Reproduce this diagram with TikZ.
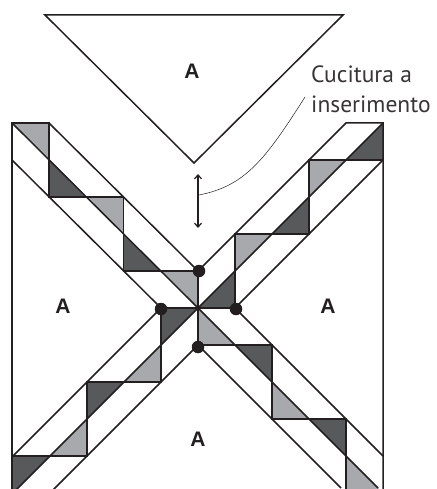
\documentclass[tikz,border=0pt]{standalone}
\usepackage{fontspec}
\setmainfont{PT Sans}
\newfontfamily\labelfont{Liberation Sans}
\usetikzlibrary{arrows.meta}
\definecolor{inkc}{HTML}{231F20}
\definecolor{darkp}{HTML}{58595B}
\definecolor{lightp}{HTML}{A7A9AC}
\tikzset{
  seam/.style={draw=inkc,line width=1.5pt,line cap=butt,line join=miter},
  pin/.style={circle,fill=inkc,inner sep=0pt,minimum size=12.5pt},
  piece/.style={font=\labelfont\bfseries\fontsize{21}{21}\selectfont,text=inkc,inner sep=0pt},
  note/.style={font=\fontsize{23.5}{23.5}\selectfont,text=inkc!90,inner sep=0pt,anchor=base west},
  leader/.style={draw=inkc,line width=0.5pt},
  gap/.style={draw=inkc,line width=1.2pt,{Straight Barb[length=4pt,width=7pt]}-{Straight Barb[length=4pt,width=7pt]}}
}
\begin{document}
\begin{tikzpicture}[x=1pt,y=-1pt]
\useasboundingbox (0,0) rectangle (436,489);
\clip (0,0) rectangle (436,489);
\coordinate (C) at (198,308);
\coordinate (N) at (198,271);
\coordinate (W) at (161,308);
\coordinate (E) at (235,308);
\coordinate (S) at (198,345);
% fills: upper left
\fill[lightp] (12,123)--(49,123)--(49,160)--cycle;
\fill[darkp] (49,160)--(49,197)--(86,197)--cycle;
\fill[lightp] (86,197)--(123.5,197)--(123.5,234)--cycle;
\fill[darkp] (123.5,234)--(123.5,271)--(161,271)--cycle;
\fill[lightp] (161,271)--(N)--(C)--cycle;
% fills: upper right
\fill[darkp] (383,123)--(383,160)--(346,160)--cycle;
\fill[lightp] (309,160)--(346,160)--(309,197)--cycle;
\fill[darkp] (309,197)--(309,234)--(272,234)--cycle;
\fill[lightp] (235,234)--(272,234)--(235,271)--cycle;
\fill[darkp] (235,271)--(E)--(C)--cycle;
% fills: lower left
\fill[darkp] (W)--(C)--(161,345)--cycle;
\fill[lightp] (161,345)--(161,382)--(124,382)--cycle;
\fill[darkp] (87,382)--(124,382)--(87,419)--cycle;
\fill[lightp] (87,419)--(87,456)--(50,456)--cycle;
\fill[darkp] (12,456)--(50,456)--(12,494)--cycle;
% fills: lower right
\fill[lightp] (C)--(S)--(235,345)--cycle;
\fill[darkp] (235,345)--(272,345)--(272,382)--cycle;
\fill[lightp] (272,382)--(272,419)--(309,419)--cycle;
\fill[darkp] (309,419)--(346,419)--(346,456)--cycle;
\fill[lightp] (346,456)--(346,493)--(383,493)--cycle;
% top triangle
\draw[seam] (45,15)--(343,15)--(194,163)--cycle;
% block outlines
\draw[seam] (12,489)--(12,123)--(49,123)--(49,197)--(123.5,197)--(123.5,271)--(N)--(C);
\draw[seam] (12,123)--(C);
\draw[seam] (49,123)--(N);
\draw[seam] (12,160)--(W);
\draw[seam] (383,489)--(383,123)--(346,123)--(N);
\draw[seam] (383,123)--(C);
\draw[seam] (383,160)--(E);
\draw[seam] (383,160)--(309,160)--(309,234)--(235,234)--(235,308)--(C);
\draw[seam] (W)--(C);
\draw[seam] (C)--(12,494);
\draw[seam] (S)--(53,490);
\draw[seam] (W)--(12,457);
\draw[seam] (W)--(161,382)--(87,382)--(87,456)--(12,456)--(12,489);
\draw[seam] (C)--(378,488);
\draw[seam] (E)--(383,456);
\draw[seam] (S)--(341,488);
\draw[seam] (C)--(S)--(272,345)--(272,419)--(346,419)--(346,490);
% seam pins
\node[pin] (pn) at (199,271) {};
\node[pin] (pw) at (161,309) {};
\node[pin] (pe) at (236,309) {};
\node[pin] (ps) at (198,347) {};
% labels
\node[piece] (a1) at (192,71) {A};
\node[piece] (a2) at (63,306) {A};
\node[piece] (a3) at (328,306) {A};
\node[piece] (a4) at (198,439) {A};
\node[note] (t1) at (311,83) {Cucitura a};
\node[note] (t2) at (311,113) {inserimento};
% gap arrow and leader
\coordinate (g1) at (198,174);
\coordinate (g2) at (198,228);
\coordinate (l1) at (199,195);
\coordinate (l2) at (305,97);
\draw[gap] (g1)--(g2);
\draw[leader] (l1) .. controls (245,186) and (265,160) .. (l2);
\end{tikzpicture}
\end{document}
